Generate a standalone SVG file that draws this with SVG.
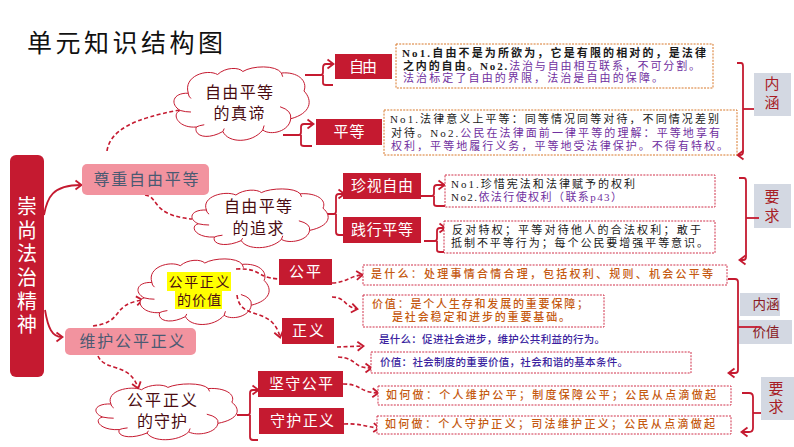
<svg xmlns="http://www.w3.org/2000/svg" width="794" height="447" viewBox="0 0 794 447">
<style>
text{font-family:"Liberation Serif","Noto Sans CJK SC",serif;text-anchor:middle}
.l{text-anchor:start}
.red{fill:#c51a30}
.w{fill:#fff;font-size:15px}
.rt{fill:#fff;font-size:20px}
.pk{fill:#f2939f}
.pt{fill:#4a5a72;font-size:16px}
.cl{fill:#4a0c12;font-size:16px}
.lab{fill:#d3d8e2}
.lt{fill:#a81c25;font-size:15px}
.lu{fill:#8a1a22;font-size:13.5px}
.b{fill:none;stroke:#c51a30;stroke-width:1.8}
.d{fill:none;stroke:#c51a30;stroke-width:1.6;stroke-dasharray:4 2.5}
.box{fill:#fff;stroke-width:1;stroke-dasharray:2 1.2}
.o{stroke:#d8782a}
.r{stroke:#d0314a}
.k{fill:#1a1a1a;font-size:11px}
.p{fill:#7030a0}
.or{fill:#c55a11;font-size:11px;font-weight:500}
.bl{fill:#3b1fa0;font-size:10.5px;font-weight:500}
.cloud{fill:#fff;stroke:#c51a30;stroke-width:1}
</style>
<defs>
<marker id="a" markerUnits="userSpaceOnUse" markerWidth="12" markerHeight="12" refX="8.5" refY="6" orient="auto"><path d="M3 1.5 L9 6 L3 10.5" fill="none" stroke="#c51a30" stroke-width="1.8"/></marker>
<path id="c" vector-effect="non-scaling-stroke" d="M10 35C6 12 24 2 32 10C38 0 48 0 51 6C58 -2 76 -3 80 8C92 6 100 18 97 32C104 45 102 62 87 69C86 86 72 92 66 84C58 102 40 102 36 86C24 98 14 92 16 80C2 82 -3 62 4 58C-4 50 -2 34 10 35Z"/>
<path id="ci" vector-effect="non-scaling-stroke" fill="none" d="M10 35Q10 39 12 42M4 58Q8 60 12 60M87 69Q88 58 79 53M66 84L67 78M36 86L37 82M16 80Q18 78 22 77M80 8L81 13"/>
</defs>

<text x="27" y="52" class="l" font-size="25" letter-spacing="3.5" fill="#111" style="font-family:'Noto Sans CJK SC',sans-serif">单元知识结构图</text>

<g id="n-l1"><rect x="754" y="73" width="37" height="43" class="lab"/><text x="772" y="89" class="lt">内</text><text x="772" y="108" class="lt">涵</text></g>
<g id="n-l2"><rect x="754" y="184" width="37" height="44" class="lab"/><text x="772" y="202" class="lt">要</text><text x="772" y="221" class="lt">求</text></g>
<g id="n-l3"><rect x="740" y="293" width="40" height="23" class="lab"/><text x="766" y="309" class="lu">内涵</text></g>
<g id="n-l4"><rect x="739" y="320" width="53" height="24" class="lab"/><text x="766" y="337" class="lu">价值</text></g>
<g id="n-l5"><rect x="761" y="377" width="33" height="43" class="lab"/><text x="776" y="394" class="lt">要</text><text x="776" y="412" class="lt">求</text></g>

<g id="connectors">
<path class="b" marker-end="url(#a)" d="M44 215C47 198 52 185 81 185"/>
<path class="b" marker-end="url(#a)" d="M45 310C48 328 52 337 62 337"/>
<path class="d" d="M107 151C110 130 135 118 180 110"/>
<path class="d" d="M145 195C160 197 150 215 192 219"/>
<path class="d" marker-end="url(#a)" d="M93 326C125 322 110 305 142 300"/>
<path class="d" marker-end="url(#a)" d="M98 356C105 372 130 362 138 388"/>
<path class="d" marker-end="url(#a)" d="M332 283C345 283 350 276 362 275"/>
<path class="d" marker-end="url(#a)" d="M332 297C345 297 345 307 357 309"/>
<path class="d" marker-end="url(#a)" d="M337 347L363 346"/>
<path class="d" marker-end="url(#a)" d="M338 357C358 358 352 368 371 368"/>
<path class="d" marker-end="url(#a)" d="M343 384C362 384 358 392 378 393"/>
<path class="d" marker-end="url(#a)" d="M344 424C360 423 365 427 379 428"/>
<path class="b" marker-end="url(#a)" d="M305 75H321Q323 75 323 72V68Q323 64 326 64H333"/>
<path class="b" d="M323 75V83Q323 85 326 85H333"/>
<path class="b" marker-end="url(#a)" d="M283 135H299Q301 135 301 132V127Q301 124 304 124H313"/>
<path class="b" d="M301 135V144Q301 146 304 146H312"/>
<path class="b" marker-end="url(#a)" d="M323 214H334Q336 214 336 211V197Q336 194 339 194H344"/>
<path class="b" d="M336 214V232Q336 235 339 235H344"/>
<path class="b" marker-end="url(#a)" d="M421 196H432Q434 196 434 193V188Q434 185 437 185H444"/>
<path class="b" d="M434 196V204Q434 206 437 206H445"/>
<path class="b" marker-end="url(#a)" d="M424 241H435Q437 241 437 238V231Q437 228 440 228H445"/>
<path class="b" d="M437 241V250Q437 252 440 252H444"/>
<path class="b" marker-end="url(#a)" d="M237 415H248Q250 415 250 412V393Q250 390 253 390H258"/>
<path class="b" d="M250 415V437Q250 440 253 440H258"/>
<path class="b" marker-end="url(#a)" d="M737 63H741Q743 63 743 66V152Q743 155 740 155H738"/>
<path class="b" d="M743 109H754"/>
<path class="b" marker-end="url(#a)" d="M739 178H744Q746 178 746 181V257Q746 260 743 260H740"/>
<path class="b" d="M746 218H759"/>
<path class="b" marker-end="url(#a)" d="M728 279H735Q738 279 738 282V370Q738 373 735 373H729"/>
<path class="b" d="M738 327H760"/>
<path class="b" marker-end="url(#a)" d="M742 393H749Q753 393 753 397V428Q753 432 749 432H742"/>
<path class="b" d="M753 413H761"/>
</g>

<g id="n-root"><rect x="10" y="155" width="34" height="222" rx="6" class="red"/>
<text x="27" y="214" class="rt">崇</text><text x="27" y="238" class="rt">尚</text><text x="27" y="261" class="rt">法</text><text x="27" y="285" class="rt">治</text><text x="27" y="309" class="rt">精</text><text x="27" y="332" class="rt">神</text></g>

<g id="n-zunzhong"><rect x="82" y="164" width="127" height="31" rx="5" class="pk"/><text x="146" y="185" class="pt" textLength="105">尊重自由平等</text></g>
<g id="n-weihu"><rect x="65" y="328" width="131" height="27" rx="5" class="pk"/><text x="132" y="347" class="pt" textLength="105">维护公平正义</text></g>

<g id="n-cloud1" class="cloud"><g transform="translate(175 67) scale(1.33 .75)"><use href="#c"/><use href="#ci"/></g></g>
<g id="n-cloud1-t"><text x="239" y="98" class="cl" textLength="68">自由平等</text><text x="239" y="119" class="cl" textLength="51">的真谛</text></g>
<g id="n-cloud2" class="cloud"><g transform="translate(193 189) scale(1.34 .6)"><use href="#c"/><use href="#ci"/></g></g>
<g id="n-cloud2-t"><text x="258" y="212" class="cl" textLength="68">自由平等</text><text x="258" y="234" class="cl" textLength="51">的追求</text></g>
<g id="n-cloud3" class="cloud"><g transform="translate(139 259) scale(1.29 .67)"><use href="#c"/><use href="#ci"/></g></g>
<g id="n-cloud3-t"><rect x="167" y="272" width="64" height="19" fill="#ff0"/><rect x="175" y="291" width="47" height="18" fill="#ff0"/><text x="199" y="287" class="cl" style="font-size:14px" textLength="61">公平正义</text><text x="199" y="305" class="cl" style="font-size:14px" textLength="44">的价值</text></g>
<g id="n-cloud4" class="cloud"><g transform="translate(97 384) scale(1.39 .57)"><use href="#c"/><use href="#ci"/></g></g>
<g id="n-cloud4-t"><text x="162" y="406" class="cl" textLength="70">公平正义</text><text x="162" y="427" class="cl" textLength="50">的守护</text></g>

<g id="connectors-over-clouds">
<path class="d" d="M236 269C262 268 255 277 278 279"/>
<path class="d" marker-end="url(#a)" d="M237 295C240 322 272 305 280 337"/>
</g>

<g id="n-ziyou"><rect x="335" y="54" width="57" height="25" class="red"/><text x="363" y="72" class="w" textLength="28">自由</text></g>
<g id="n-pingdeng"><rect x="316" y="119" width="66" height="26" class="red"/><text x="349" y="137" class="w" textLength="31">平等</text></g>
<g id="n-zhenshi"><rect x="343" y="173" width="78" height="26" class="red"/><text x="382" y="191" class="w" textLength="62">珍视自由</text></g>
<g id="n-jianxing"><rect x="343" y="217" width="78" height="26" class="red"/><text x="382" y="235" class="w" textLength="62">践行平等</text></g>
<g id="n-gongping"><rect x="279" y="259" width="53" height="26" class="red"/><text x="305" y="277" class="w" textLength="32">公平</text></g>
<g id="n-zhengyi"><rect x="282" y="318" width="52" height="26" class="red"/><text x="308" y="336" class="w" textLength="32">正义</text></g>
<g id="n-jianshou"><rect x="258" y="371" width="85" height="26" class="red"/><text x="301" y="389" class="w" textLength="64">坚守公平</text></g>
<g id="n-shouhu"><rect x="259" y="408" width="85" height="26" class="red"/><text x="302" y="426" class="w" textLength="64">守护正义</text></g>

<g id="n-t1"><rect x="396" y="44" width="317" height="44" class="box o"/>
<text x="402" y="57" class="l k" font-weight="bold" textLength="304">No1.自由不是为所欲为，它是有限的相对的，是法律</text>
<text x="403" y="69.500" class="l k" textLength="297"><tspan font-weight="bold">之内的自由。No2.</tspan><tspan class="p">法治与自由相互联系，不可分割。</tspan></text>
<text x="403" y="82" class="l k p" textLength="260">法治标定了自由的界限，法治是自由的保障。</text></g>
<g id="n-t2"><rect x="384" y="110" width="353" height="45" class="box o"/>
<text x="390" y="123" class="l k" textLength="329">No1.法律意义上平等：同等情况同等对待，不同情况差别</text>
<text x="391" y="136.500" class="l k" textLength="329">对待。No2.<tspan class="p">公民在法律面前一律平等的理解：平等地享有</tspan></text>
<text x="391" y="149.500" class="l k p" textLength="337">权利，平等地履行义务，平等地受法律保护。不得有特权。</text></g>
<g id="n-t3"><rect x="445" y="175" width="270" height="32" class="box r"/>
<text x="451" y="188" class="l k" textLength="184">No1.珍惜宪法和法律赋予的权利</text>
<text x="451" y="201" class="l k" textLength="171">No2.<tspan class="p">依法行使权利（联系p43）</tspan></text></g>
<g id="n-t4"><rect x="444" y="221" width="271" height="32" class="box r"/>
<text x="452" y="234" class="l k" textLength="249">反对特权；平等对待他人的合法权利；敢于</text>
<text x="451" y="246.500" class="l k" textLength="257">抵制不平等行为；每个公民要增强平等意识。</text></g>
<g id="n-t5"><rect x="363" y="265" width="364" height="20" class="box r"/><text x="371" y="278" class="l or" textLength="342">是什么：处理事情合情合理，包括权利、规则、机会公平等</text></g>
<g id="n-t6"><rect x="363" y="295" width="241" height="32" class="box r"/><text x="372" y="308" class="l or" textLength="216">价值：是个人生存和发展的重要保障；</text><text x="392" y="321" class="l or" textLength="178">是社会稳定和进步的重要基础。</text></g>
<g id="n-t7"><text x="379" y="343" class="l bl" textLength="226">是什么：促进社会进步，维护公共利益的行为。</text></g>
<g id="n-t8"><rect x="371" y="352" width="320" height="21" class="box r"/><text x="380" y="366" class="l bl" textLength="248">价值：社会制度的重要价值，社会和谐的基本条件。</text></g>
<g id="n-t9"><rect x="378" y="386" width="353" height="19" class="box r"/><text x="386" y="399" class="l or" textLength="330">如何做：个人维护公平；制度保障公平；公民从点滴做起</text></g>
<g id="n-t10"><rect x="377" y="416" width="354" height="18" class="box r"/><text x="385" y="428" class="l or" textLength="330">如何做：个人守护正义；司法维护正义；公民从点滴做起</text></g>
</svg>
